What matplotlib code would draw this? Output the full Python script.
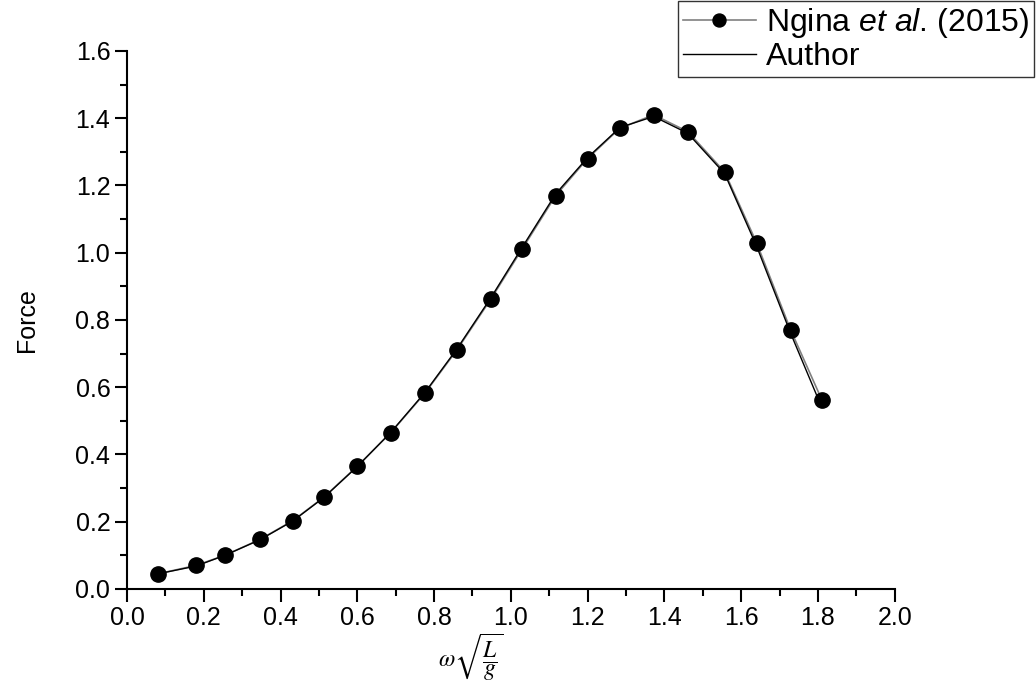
import matplotlib

matplotlib.use("Agg")
import matplotlib.pyplot as plt
from matplotlib.ticker import MultipleLocator, FormatStrFormatter

plt.rcParams["font.family"] = ["Liberation Sans", "DejaVu Sans"]
plt.rcParams["mathtext.fontset"] = "custom"
plt.rcParams["mathtext.rm"] = "Liberation Sans"
plt.rcParams["mathtext.it"] = "Liberation Sans:italic"

# frequency parameter, omega*sqrt(L/g)
freq = [0.081, 0.18, 0.255, 0.346, 0.432, 0.513, 0.60, 0.6875, 0.776, 0.859, 0.948,
        1.029, 1.117, 1.20, 1.284, 1.372, 1.461, 1.557, 1.64, 1.729, 1.81]
force_ngina = [0.045, 0.07, 0.10, 0.147, 0.203, 0.273, 0.365, 0.465, 0.582, 0.71, 0.862,
               1.01, 1.17, 1.28, 1.37, 1.41, 1.36, 1.24, 1.03, 0.77, 0.563]
force_author = [0.045, 0.068, 0.10, 0.146, 0.202, 0.272, 0.364, 0.466, 0.584, 0.713, 0.866,
                1.015, 1.175, 1.283, 1.372, 1.405, 1.355, 1.235, 1.02, 0.76, 0.54]

fig = plt.figure(figsize=(10.36, 6.88), dpi=100)
ax = fig.add_axes([0.1226, 0.144, 0.741, 0.782])

l1, = ax.plot(freq, force_ngina, color="#808080", linewidth=1.2, marker="o",
              markersize=11, markerfacecolor="black", markeredgecolor="black")
l2, = ax.plot(freq, force_author, color="black", linewidth=1.0)

ax.set_xlim(0, 2.0)
ax.set_ylim(0, 1.6)
ax.xaxis.set_major_locator(MultipleLocator(0.2))
ax.xaxis.set_minor_locator(MultipleLocator(0.1))
ax.yaxis.set_major_locator(MultipleLocator(0.2))
ax.yaxis.set_minor_locator(MultipleLocator(0.1))
ax.xaxis.set_major_formatter(FormatStrFormatter("%.1f"))
ax.yaxis.set_major_formatter(FormatStrFormatter("%.1f"))

for side in ["top", "right"]:
    ax.spines[side].set_visible(False)
for side in ["left", "bottom"]:
    ax.spines[side].set_linewidth(1.5)

ax.tick_params(which="major", direction="out", length=9, width=1.5, labelsize=18, pad=3)
ax.tick_params(which="minor", direction="out", length=5, width=1.5)

ax.set_ylabel("Force", fontsize=18, labelpad=26)
ax.set_xlabel(r"$\omega\sqrt{\dfrac{L}{g}}$", fontsize=17, math_fontfamily="stix")
ax.xaxis.set_label_coords(0.448, -0.08)

leg = fig.legend([l1, l2], [r"Ngina $et\ al$. (2015)", "Author"],
                 loc="upper right", bbox_to_anchor=(0.998, 0.998), fontsize=23,
                 frameon=True, fancybox=False, handlelength=2.3, borderpad=0.15,
                 labelspacing=0.05, handletextpad=0.3, borderaxespad=0,
                 markerscale=0.85)
leg.get_frame().set_edgecolor("black")
leg.get_frame().set_linewidth(1.0)

fig.savefig("out.png", dpi=100)
